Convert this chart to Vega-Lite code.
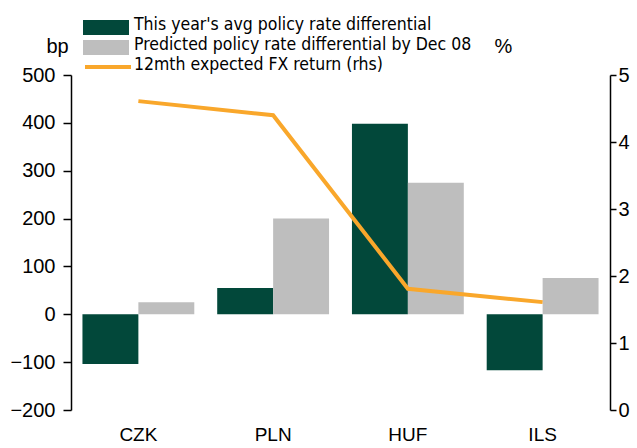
{
  "$schema": "https://vega.github.io/schema/vega-lite/v6.json",
  "width": 539,
  "height": 335,
  "autosize": "none",
  "padding": {"left": 71, "top": 75, "right": 27, "bottom": 38},
  "config": {
    "view": {"stroke": null},
    "font": "Liberation Sans",
    "axis": {"grid": false, "domainColor": "#000", "tickColor": "#000", "labelColor": "#000", "titleColor": "#000", "labelFont": "Liberation Sans", "titleFont": "Liberation Sans", "titleFontWeight": "normal"}
  },
  "datasets": {
    "bars": [
      {"cur": "CZK", "series": "This year's avg policy rate differential", "value": -104},
      {"cur": "CZK", "series": "Predicted policy rate differential by Dec 08", "value": 25},
      {"cur": "PLN", "series": "This year's avg policy rate differential", "value": 55},
      {"cur": "PLN", "series": "Predicted policy rate differential by Dec 08", "value": 200},
      {"cur": "HUF", "series": "This year's avg policy rate differential", "value": 398},
      {"cur": "HUF", "series": "Predicted policy rate differential by Dec 08", "value": 275},
      {"cur": "ILS", "series": "This year's avg policy rate differential", "value": -117},
      {"cur": "ILS", "series": "Predicted policy rate differential by Dec 08", "value": 76}
    ],
    "line": [
      {"cur": "CZK", "series": "12mth expected FX return (rhs)", "fx": 4.61},
      {"cur": "PLN", "series": "12mth expected FX return (rhs)", "fx": 4.40},
      {"cur": "HUF", "series": "12mth expected FX return (rhs)", "fx": 1.81},
      {"cur": "ILS", "series": "12mth expected FX return (rhs)", "fx": 1.61}
    ]
  },
  "encoding": {
    "x": {
      "field": "cur", "type": "nominal", "sort": ["CZK", "PLN", "HUF", "ILS"],
      "scale": {"paddingInner": 0.17, "paddingOuter": 0.085},
      "axis": {"title": null, "domain": false, "ticks": false, "labelAngle": 0, "labelFontSize": 19, "labelPadding": 15}
    }
  },
  "layer": [
    {
      "layer": [
        {
          "data": {"name": "bars"},
          "mark": {"type": "bar"},
          "encoding": {
            "xOffset": {"field": "series", "type": "nominal", "sort": ["This year's avg policy rate differential", "Predicted policy rate differential by Dec 08"], "scale": {"paddingInner": 0, "paddingOuter": 0}},
            "y": {
              "field": "value", "type": "quantitative",
              "scale": {"domain": [-200, 500], "nice": false},
              "axis": {"values": [-200, -100, 0, 100, 200, 300, 400, 500], "title": "bp", "titleAngle": 0, "titleX": -14, "titleY": -23, "titleAlign": "center", "titleBaseline": "alphabetic", "titleFontSize": 20, "labelFontSize": 20, "tickSize": 8, "labelPadding": 8, "domainWidth": 1.5, "tickWidth": 1.5}
            },
            "color": {
              "field": "series", "type": "nominal",
              "sort": ["This year's avg policy rate differential", "Predicted policy rate differential by Dec 08"],
              "scale": {"domain": ["This year's avg policy rate differential", "Predicted policy rate differential by Dec 08"], "range": ["#02483A", "#BEBEBE"]},
              "legend": {"title": null, "orient": "none", "legendX": 25, "legendY": -57.5, "padding": 0, "rowPadding": 0, "symbolType": "M-2.3,-0.75H2.3V0.75H-2.3Z", "symbolSize": 400, "symbolStrokeWidth": 0, "labelOffset": 18, "labelFont": "DejaVu Sans Condensed, Liberation Sans Narrow, Liberation Sans", "labelFontSize": 17.5, "labelLimit": 600, "labelColor": "#000", "encode": {"labels": {"update": {"dy": {"value": -3}}}}}
            }
          }
        },
        {
          "mark": {"type": "rule", "color": "#000", "strokeWidth": 1.5},
          "encoding": {"y": {"datum": 0}, "x": {"value": 0}, "x2": {"value": 539}}
        }
      ]
    },
    {
      "data": {"name": "line"},
      "mark": {"type": "line", "strokeWidth": 4},
      "encoding": {
        "y": {
          "field": "fx", "type": "quantitative",
          "scale": {"domain": [0, 5], "nice": false},
          "axis": {"orient": "right", "values": [0, 1, 2, 3, 4, 5], "title": "%", "titleAngle": 0, "titleX": -107, "titleY": -23, "titleAlign": "center", "titleBaseline": "alphabetic", "titleFontSize": 20, "labelFontSize": 20, "tickSize": 6, "labelPadding": 2, "domainWidth": 1.5, "tickWidth": 1.5}
        },
        "stroke": {
          "field": "series", "type": "nominal",
          "scale": {"range": ["#F9A72B"]},
          "legend": {"title": null, "orient": "none", "legendX": 25, "legendY": -20, "padding": 0, "rowPadding": 0, "symbolType": "M-2.3,0H2.3", "symbolSize": 400, "symbolStrokeWidth": 4, "labelOffset": 14, "labelFont": "DejaVu Sans Condensed, Liberation Sans Narrow, Liberation Sans", "labelFontSize": 17.5, "labelLimit": 600, "labelColor": "#000", "encode": {"labels": {"update": {"dy": {"value": -2}}}}}
        }
      }
    }
  ],
  "resolve": {"scale": {"y": "independent"}}
}
